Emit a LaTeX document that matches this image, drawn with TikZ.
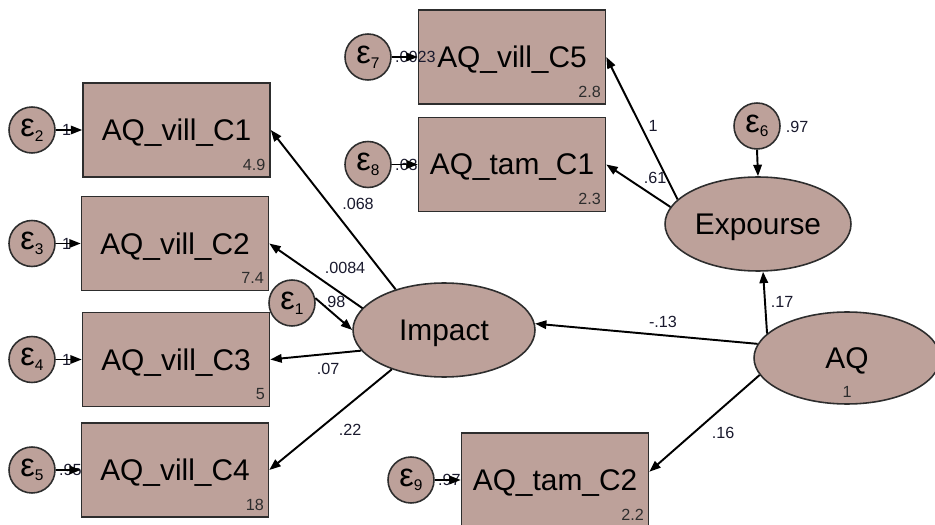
\documentclass[tikz,border=0pt]{standalone}
\usepackage{fontspec}
\setmainfont{Liberation Sans}
\usetikzlibrary{shapes.geometric,arrows.meta}
\definecolor{semfill}{RGB}{189,161,154}
\definecolor{semline}{RGB}{45,45,45}
\definecolor{semtext}{RGB}{25,25,45}
\newcommand{\errlab}[1]{{\fontsize{18.5}{20}\selectfont ε}\raisebox{-2.6pt}{\fontsize{8.8}{10}\selectfont #1}}
\begin{document}
\begin{tikzpicture}[x=0.02cm, y=0.02cm,
  obs/.style={draw=semline, line width=0.9pt, fill=semfill, minimum width=3.74cm,
    minimum height=1.88cm, inner sep=0pt, font=\fontsize{17}{20}\selectfont, text depth=0pt},
  lat/.style={ellipse, draw=semline, line width=0.9pt, fill=semfill, minimum width=3.64cm,
    minimum height=1.88cm, inner sep=0pt, font=\fontsize{17}{20}\selectfont, text depth=0pt},
  err/.style={circle, draw=semline, line width=0.9pt, fill=semfill, minimum size=0.92cm, inner sep=0pt},
  val/.style={font=\fontsize{9.2}{11}\selectfont, text=semline, inner sep=0pt},
  coef/.style={font=\fontsize{9.2}{11}\selectfont, text=semtext, inner sep=0pt},
  link/.style={-{Triangle[length=6.5pt,width=4.8pt]}, line width=1.1pt}]
  \useasboundingbox (0,0) rectangle (935,524);
  \clip (0,0) rectangle (935,524);
  \node[obs] (c1) at (176.5,394) {AQ\_vill\_C1};
  \node[obs] (c2) at (175,280.5) {AQ\_vill\_C2};
  \node[obs] (c3) at (176,164.5) {AQ\_vill\_C3};
  \node[obs] (c4) at (175,54) {AQ\_vill\_C4};
  \node[obs] (c5) at (512,467) {AQ\_vill\_C5};
  \node[obs] (tc1) at (512,359.5) {AQ\_tam\_C1};
  \node[obs] (tc2) at (555,44) {AQ\_tam\_C2};
  \node[lat] (imp) at (444,194) {Impact};
  \node[lat, minimum width=3.72cm] (exp) at (758,300) {Expourse};
  \node[lat, minimum width=3.72cm, minimum height=1.84cm] (aq) at (847,166) {AQ};
  \node[err] (e1) at (292,221) {\errlab{1}};
  \node[err] (e2) at (32,394) {\errlab{2}};
  \node[err] (e3) at (32,280.5) {\errlab{3}};
  \node[err] (e4) at (32,164.5) {\errlab{4}};
  \node[err] (e5) at (32,54) {\errlab{5}};
  \node[err] (e6) at (757,398) {\errlab{6}};
  \node[err] (e7) at (368,467) {\errlab{7}};
  \node[err] (e8) at (368,359.5) {\errlab{8}};
  \node[err] (e9) at (411,44) {\errlab{9}};
  \node[val, anchor=south east] (v1) at ([shift={(-5,7)}]c1.south east) {4.9};
  \node[val, anchor=south east] (v2) at ([shift={(-5,7)}]c2.south east) {7.4};
  \node[val, anchor=south east] (v3) at ([shift={(-5,7)}]c3.south east) {5};
  \node[val, anchor=south east] (v4) at ([shift={(-5,7)}]c4.south east) {18};
  \node[val, anchor=south east] (v5) at ([shift={(-5,7)}]c5.south east) {2.8};
  \node[val, anchor=south east] (v6) at ([shift={(-5,7)}]tc1.south east) {2.3};
  \node[val, anchor=south east] (v7) at ([shift={(-5,7)}]tc2.south east) {2.2};
  \node[val] (vaq) at (847,132) {1};
  \node[coef, anchor=west] (r2) at ([shift={(6,0)}]e2.east) {1};
  \node[coef, anchor=west] (r3) at ([shift={(6,0)}]e3.east) {1};
  \node[coef, anchor=west] (r4) at ([shift={(6,0)}]e4.east) {1};
  \node[coef, anchor=west] (r5) at ([shift={(3,0)}]e5.east) {.95};
  \node[coef, anchor=west] (r7) at ([shift={(3,0)}]e7.east) {.0023};
  \node[coef, anchor=west] (r8) at ([shift={(3,0)}]e8.east) {.63};
  \node[coef, anchor=west] (r9) at ([shift={(3,0)}]e9.east) {.97};
  \node[coef] (k1) at (358,320) {.068};
  \node[coef] (k2) at (345,256) {.0084};
  \node[coef] (k3) at (328,155) {.07};
  \node[coef] (k4) at (350,94) {.22};
  \node[coef] (k5) at (334,222) {.98};
  \node[coef] (k6) at (663,202) {-.13};
  \node[coef] (k7) at (782,222) {.17};
  \node[coef] (k8) at (723,91) {.16};
  \node[coef] (k9) at (653,398) {1};
  \node[coef] (k10) at (655,346) {.61};
  \node[coef] (k11) at (797,397) {.97};
  \draw[link] (imp.140) -- (c1.east);
  \draw[link] (imp.165) -- (c2.east);
  \draw[link] (imp.194) -- (c3.east);
  \draw[link] (imp.217) -- (c4.east);
  \draw[link] (e1.12) -- (imp.west);
  \draw[link] (aq.171) -- (imp.4);
  \draw[link] (aq.163) -- (exp.276);
  \draw[link] (aq.191) -- (tc2.5);
  \draw[link] (exp.163.5) -- (c5.east);
  \draw[link] (exp.169) -- (tc1.east);
  \draw[link] (e6.south) -- (exp.north);
  \draw[link] (e2) -- (c1);
  \draw[link] (e3) -- (c2);
  \draw[link] (e4) -- (c3);
  \draw[link] (e5) -- (c4);
  \draw[link] (e7) -- (c5);
  \draw[link] (e8) -- (tc1);
  \draw[link] (e9) -- (tc2);
\end{tikzpicture}
\end{document}
